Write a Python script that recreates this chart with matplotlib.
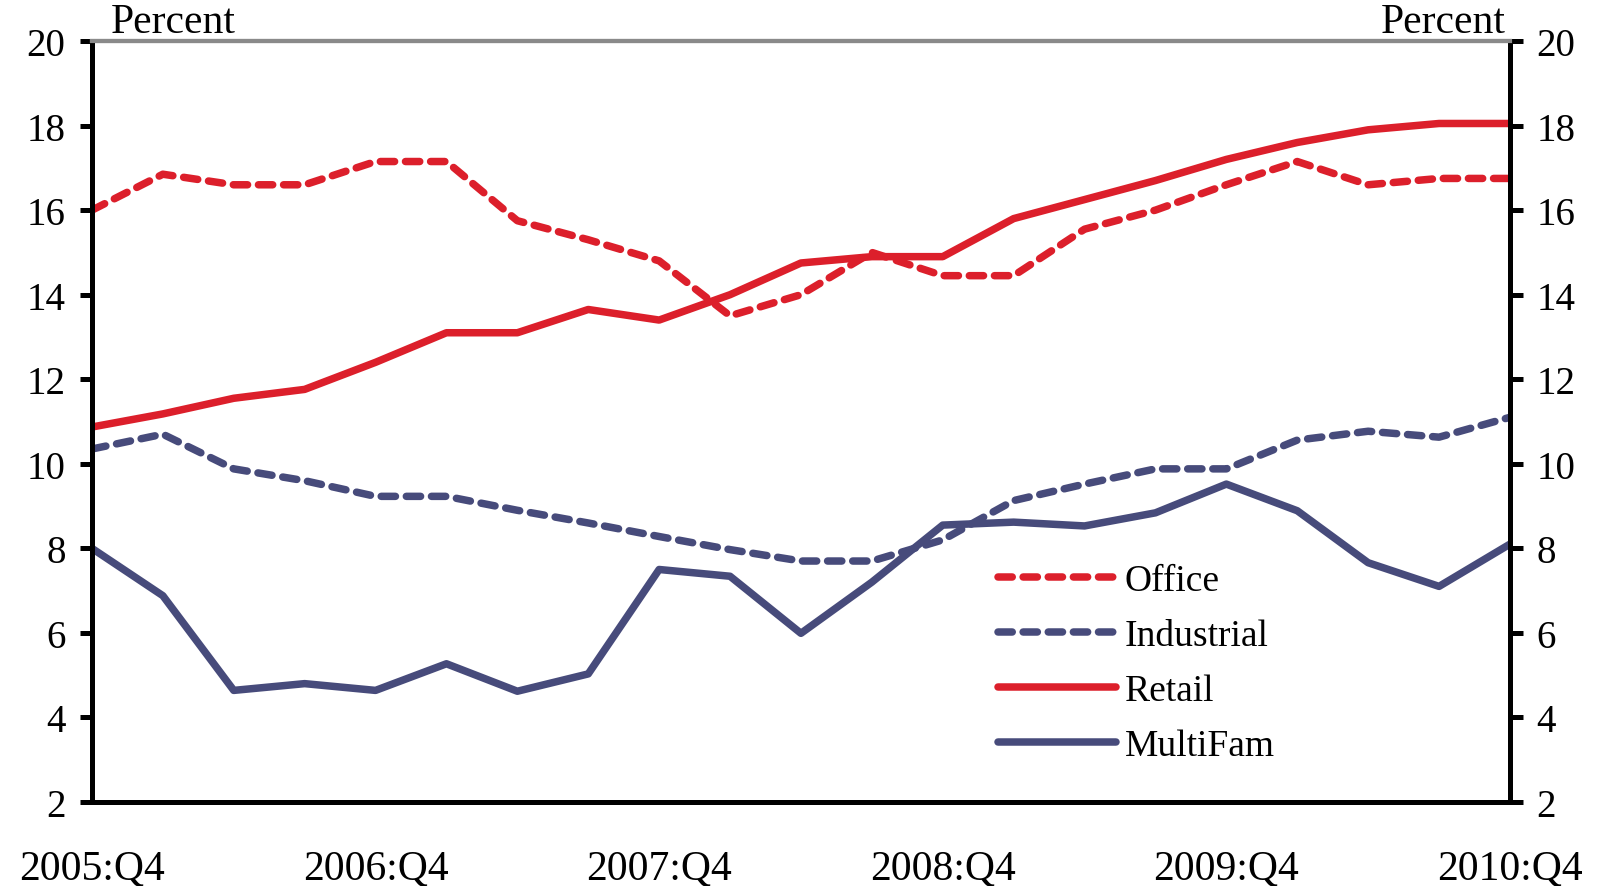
import matplotlib.pyplot as plt
import numpy as np

plt.rcParams['font.family'] = ['Liberation Serif', 'DejaVu Serif']

quarters = ["2005:Q4", "2006:Q1", "2006:Q2", "2006:Q3", "2006:Q4", "2007:Q1", "2007:Q2",
            "2007:Q3", "2007:Q4", "2008:Q1", "2008:Q2", "2008:Q3", "2008:Q4", "2009:Q1",
            "2009:Q2", "2009:Q3", "2009:Q4", "2010:Q1", "2010:Q2", "2010:Q3", "2010:Q4"]
office = [16.0, 16.85, 16.6, 16.6, 17.15, 17.15, 15.75, 15.3, 14.8, 13.5, 14.0,
          15.0, 14.45, 14.45, 15.55, 16.0, 16.6, 17.15, 16.6, 16.75, 16.75]
industrial = [10.35, 10.7, 9.88, 9.6, 9.23, 9.23, 8.9, 8.6, 8.28, 7.97, 7.7,
              7.7, 8.2, 9.13, 9.52, 9.88, 9.88, 10.56, 10.77, 10.63, 11.1]
retail = [10.87, 11.18, 11.55, 11.76, 12.4, 13.1, 13.1, 13.65, 13.4, 14.0, 14.75,
          14.9, 14.9, 15.8, 16.25, 16.7, 17.2, 17.6, 17.9, 18.05, 18.05]
multifam = [8.0, 6.88, 4.64, 4.8, 4.64, 5.27, 4.62, 5.03, 7.5, 7.34, 5.99,
            7.2, 8.55, 8.62, 8.53, 8.84, 9.52, 8.89, 7.66, 7.1, 8.1]

red = '#dc1f2b'
navy = '#474b7b'
lw = 5.4
dash = (1.9, 1.45)

fig = plt.figure(figsize=(15.99, 8.87), dpi=100)
ax = fig.add_axes([0.0575, 0.0947, 0.8868, 0.8579])
x = np.arange(len(quarters))

ax.plot(x, office, color=red, lw=lw, dashes=dash, dash_capstyle='round', label='Office')
ax.plot(x, industrial, color=navy, lw=lw, dashes=dash, dash_capstyle='round', label='Industrial')
ax.plot(x, retail, color=red, lw=lw, solid_capstyle='round', label='Retail')
ax.plot(x, multifam, color=navy, lw=lw, solid_capstyle='round', label='MultiFam')

ax.set_xlim(0, len(quarters) - 1)
ax.set_ylim(2, 20)
ax.set_yticks(range(2, 21, 2))
ax.set_xticks(x[::4])
ax.set_xticklabels(quarters[::4])
ax.tick_params(axis='x', length=0, pad=34, labelsize=30)
ax.tick_params(axis='y', direction='out', length=9, width=3.6, labelsize=28, pad=10)

ax2 = ax.twinx()
ax2.set_ylim(2, 20)
ax2.set_yticks(range(2, 21, 2))
ax2.tick_params(axis='y', direction='out', length=9, width=3.6, labelsize=28, pad=10)

for a in (ax, ax2):
    for s in ('left', 'right', 'bottom'):
        a.spines[s].set_linewidth(3.6)
        a.spines[s].set_color('black')
    a.spines['top'].set_color('#8a8a8a')
    a.spines['top'].set_linewidth(3)

ax.text(0.013, 1.0, 'Percent', transform=ax.transAxes, fontsize=30, ha='left', va='bottom')
ax.text(0.997, 1.0, 'Percent', transform=ax.transAxes, fontsize=30, ha='right', va='bottom')

leg = ax.legend(loc='center left', bbox_to_anchor=(0.639, 0.182), frameon=False, fontsize=27,
                handlelength=3.15, handletextpad=0.22, labelspacing=0.55, borderaxespad=0,
                borderpad=0)

fig.savefig('out.png', dpi=100)
